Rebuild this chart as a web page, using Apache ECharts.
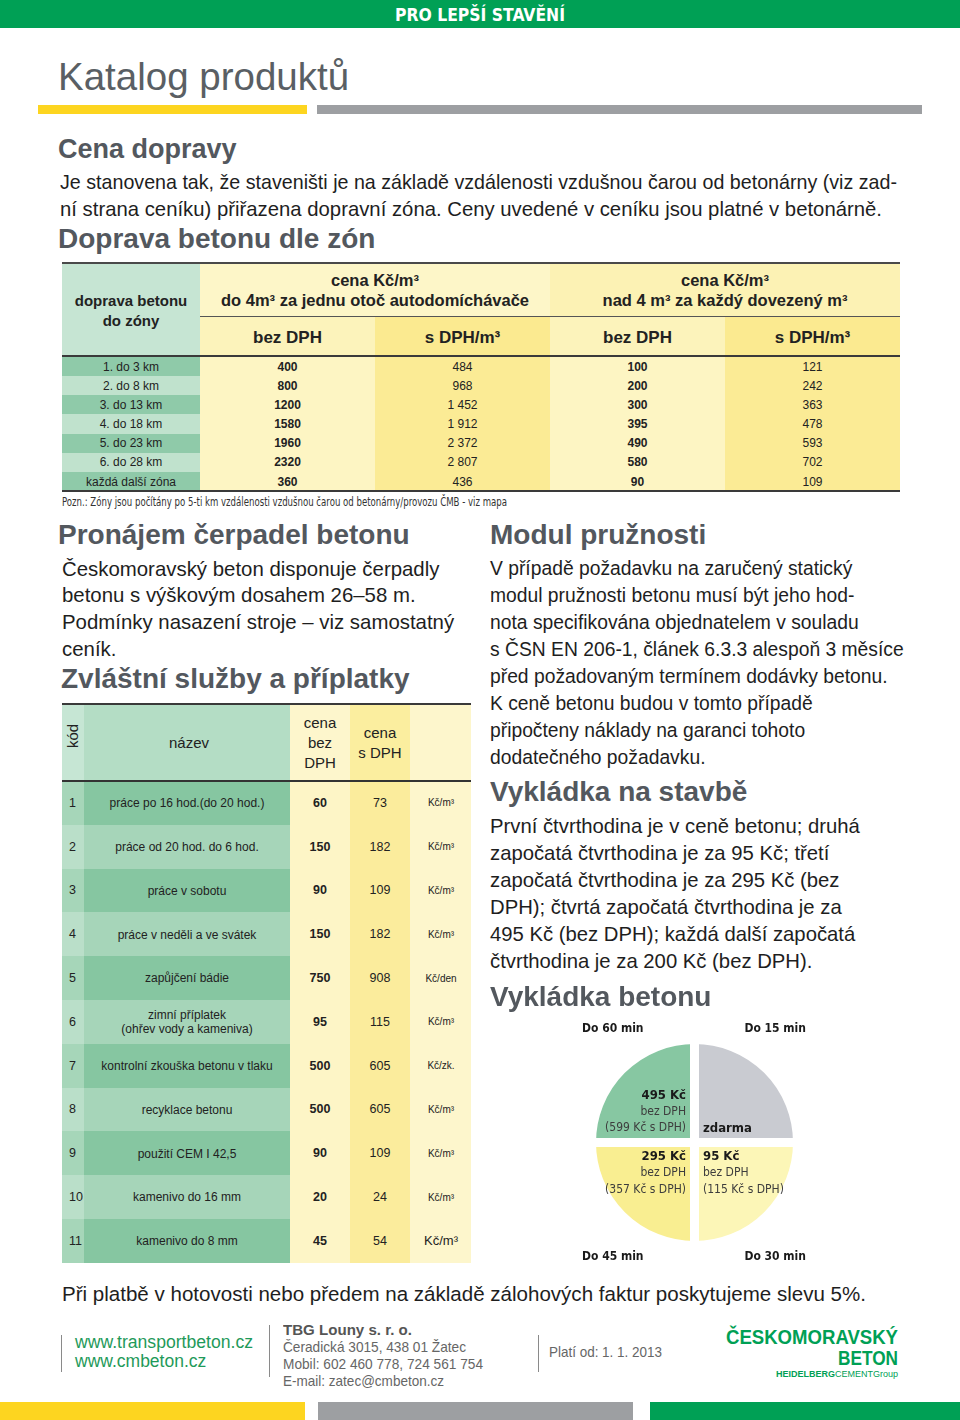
<!DOCTYPE html>
<html><head><meta charset="utf-8">
<script src="https://cdn.jsdelivr.net/npm/echarts@6/dist/echarts.min.js"></script>
<style>
html,body{margin:0;padding:0;background:#fff;}
#page{position:relative;width:960px;height:1420px;overflow:hidden;background:#fff;font-family:"Liberation Sans",Arial,sans-serif;color:#222;}
.t{position:absolute;white-space:nowrap;}
.r{position:absolute;}
#pie{position:absolute;left:480px;top:1005px;width:480px;height:275px;}
</style></head>
<body><div id="page"><div id="pie"></div></div>
<script>
// ---------- data ----------
const zones = ['1. do 3 km','2. do 8 km','3. do 13 km','4. do 18 km','5. do 23 km','6. do 28 km','každá další zóna'];
const firstNet = [400,800,1200,1580,1960,2320,360];
const firstGross = [484,968,1452,1912,2372,2807,436];
const extraNet = [100,200,300,395,490,580,90];
const extraGross = [121,242,363,478,593,702,109];

const serviceCodes = [1,2,3,4,5,6,7,8,9,10,11];
const serviceNames = ['práce po 16 hod.(do 20 hod.)','práce od 20 hod. do 6 hod.','práce v sobotu','práce v neděli a ve svátek','zapůjčení bádie','zimní příplatek|(ohřev vody a kameniva)','kontrolní zkouška betonu v tlaku','recyklace betonu','použití CEM I 42,5','kamenivo do 16 mm','kamenivo do 8 mm'];
const serviceNet = [60,150,90,150,750,95,500,500,90,20,45];
const serviceGross = [73,182,109,182,908,115,605,605,109,24,54];
const serviceUnit = ['Kč/m³','Kč/m³','Kč/m³','Kč/m³','Kč/den','Kč/m³','Kč/zk.','Kč/m³','Kč/m³','Kč/m³','Kč/m³'];

const slotNames = ['Do 15 min','Do 30 min','Do 45 min','Do 60 min'];
const slotShare = [1,1,1,1];
const slotNet = [0,95,295,495];
const slotGross = [0,115,357,599];

// ---------- helpers ----------
const page = document.getElementById('page');
function put(html,x,base,fs,css,align,fitW){
  const d=document.createElement('div');
  d.className='t';
  d.innerHTML=html;
  let s='left:'+x+'px;top:'+(base-0.8465*fs)+'px;font-size:'+fs+'px;line-height:'+fs+'px;';
  d.style.cssText=s+(css||'');
  page.appendChild(d);
  let tr='';
  if(align==='center') tr='translateX(-50%)';
  if(align==='right') tr='translateX(-100%)';
  if(fitW){
    const nat=d.getBoundingClientRect().width;
    tr+=' scaleX('+(fitW/nat)+')';
    d.style.transformOrigin=align==='right'?'100% 50%':(align==='center'?'50% 50%':'0 50%');
  }
  if(tr) d.style.transform=tr;
  return d;
}
function rect(x,y,w,h,c){
  const d=document.createElement('div');d.className='r';
  d.style.cssText='left:'+x+'px;top:'+y+'px;width:'+w+'px;height:'+h+'px;background:'+c+';';
  page.appendChild(d);return d;
}
function fmt(n){return n>=1000? String(n).replace(/(\d)(\d{3})$/,'$1 $2'):String(n);}
const COND='font-family:"DejaVu Sans Condensed","DejaVu Sans",sans-serif;font-stretch:condensed;';

// ---------- top ----------
rect(0,0,960,28,'#00a055');
put('PRO LEPŠÍ STAVĚNÍ',480,21,18,COND+'font-weight:bold;color:#fff;','center',170);
put('Katalog produktů',58,91,38.5,'color:#5a5f64;');
rect(38,105,269,9,'#fdd520');
rect(317,105,605,9,'#9d9fa2');

put('Cena dopravy',58,159,27,'font-weight:bold;color:#53585e;');
const p1=['Je stanovena tak, že staveništi je na základě vzdálenosti vzdušnou čarou od betonárny (viz zad-','ní strana ceníku) přiřazena dopravní zóna. Ceny uvedené v ceníku jsou platné v betonárně.'];
const p1w=[837,822];
p1.forEach((l,i)=>{put(l,60,189+i*27,21,'color:#1e1e1e;',null,p1w[i]);});
put('Doprava betonu dle zón',58,249,28,'font-weight:bold;color:#53585e;');

// ---------- table 1 ----------
(function(){
  rect(62,263,138,94,'#c6e5d3');
  rect(200,263,350,53,'#fdf6c8');
  rect(550,263,350,53,'#fcf2b4');
  rect(200,316,175,41,'#fcf3bb');
  rect(375,316,175,41,'#fbea90');
  rect(550,316,175,41,'#fcf3bb');
  rect(725,316,175,41,'#fbea90');
  const top=357, h=(491-357)/zones.length;
  zones.forEach((z,i)=>{
    const y=top+i*h;
    rect(62,y,138,h,i%2===0?'#8fcaa9':'#c0e2cd');
    rect(200,y,175,h,'#fdf5c3');
    rect(375,y,175,h,'#fbeb95');
    rect(550,y,175,h,'#fdf5c3');
    rect(725,y,175,h,'#fbeb95');
    const b=y+h/2+4.3;
    put(z,131,b,12,'color:#222;','center');
    put(String(firstNet[i]),287.5,b,12,'font-weight:bold;color:#222;','center');
    put(fmt(firstGross[i]),462.5,b,12,'color:#222;','center');
    put(String(extraNet[i]),637.5,b,12,'font-weight:bold;color:#222;','center');
    put(fmt(extraGross[i]),812.5,b,12,'color:#222;','center');
    rect(62,Math.round(y+h)-0.5,838,1,'#3a3a3a');
  });
  rect(62,262,838,2,'#4a4a4a');
  rect(200,315.5,700,1,'#555');
  rect(62,354.5,838,2,'#3a3a3a');
  rect(62,490,838,1.5,'#3a3a3a');
  put('doprava betonu',131,306,15,'font-weight:bold;color:#222;','center');
  put('do zóny',131,326,15,'font-weight:bold;color:#222;','center');
  put('cena Kč/m³',375,286,16.5,'font-weight:bold;color:#222;','center');
  put('do 4m³ za jednu otoč autodomíchávače',375,306,16.5,'font-weight:bold;color:#222;','center');
  put('cena Kč/m³',725,286,16.5,'font-weight:bold;color:#222;','center');
  put('nad 4 m³ za každý dovezený m³',725,306,16.5,'font-weight:bold;color:#222;','center');
  put('bez DPH',287.5,343,17,'font-weight:bold;color:#222;','center');
  put('s DPH/m³',462.5,343,17,'font-weight:bold;color:#222;','center');
  put('bez DPH',637.5,343,17,'font-weight:bold;color:#222;','center');
  put('s DPH/m³',812.5,343,17,'font-weight:bold;color:#222;','center');
})();
put('Pozn.: Zóny jsou počítány po 5-ti km vzdálenosti vzdušnou čarou od betonárny/provozu ČMB - viz mapa',62,507,11.5,COND+'color:#333;',null,445);

// ---------- left column ----------
put('Pronájem čerpadel betonu',58,545,28,'font-weight:bold;color:#53585e;');
['Českomoravský beton disponuje čerpadly','betonu s výškovým dosahem 26–58 m.','Podmínky nasazení stroje – viz samostatný','ceník.'].forEach((l,i)=>put(l,62,576+i*26.7,20.4,'color:#1e1e1e;'));
put('Zvláštní služby a příplatky',61,689,28,'font-weight:bold;color:#53585e;');

// ---------- table 2 ----------
(function(){
  rect(62,704,22,77,'#c6e6d4');
  rect(84,704,206,77,'#b4ddc5');
  rect(290,704,60,77,'#fdf6cc');
  rect(350,704,60,77,'#fbee9f');
  rect(410,704,61,77,'#fdf6cc');
  const top=781,h=43.8;
  serviceCodes.forEach((c,i)=>{
    const y=top+i*h, odd=i%2===0;
    rect(62,y,22,h,odd?'#a6d6b9':'#badfc9');
    rect(84,y,206,h,odd?'#86c6a1':'#a6d5b9');
    rect(290,y,60,h,'#fdf5c6');
    rect(350,y,60,h,'#fbec9c');
    rect(410,y,61,h,'#fdf6cc');
    const cy=y+h/2, b=cy+4.5;
    put(String(c),69,b,12.5,'color:#222;');
    const nm=serviceNames[i].split('|');
    if(nm.length===1) put(nm[0],187,b,12,'color:#222;','center');
    else {put(nm[0],187,b-7,12,'color:#222;','center');put(nm[1],187,b+7,12,'color:#222;','center');}
    put(String(serviceNet[i]),320,b,12.5,'font-weight:bold;color:#222;','center');
    put(String(serviceGross[i]),380,b,12.5,'color:#222;','center');
    const last=i===serviceCodes.length-1;
    put(serviceUnit[i],441,b-(last?0:0.5),last?13:10,'color:#222;','center');
    if(!last) rect(62,Math.round(y+h)-0.5,409,1,'#333');
  });
  rect(62,703,409,2,'#3a3a3a');
  rect(62,780,409,1.5,'#333');
  const k=put('kód',72,745,15,'color:#222;','center');
  k.style.transform='translate(-50%,-30%) rotate(-90deg)';
  k.style.top=(740-7.5)+'px';
  put('název',189,748,15,'color:#222;','center');
  ['cena','bez','DPH'].forEach((l,i)=>put(l,320,728+i*20,15,'color:#222;','center'));
  ['cena','s DPH'].forEach((l,i)=>put(l,380,738+i*20,15,'color:#222;','center'));
})();

// ---------- right column ----------
put('Modul pružnosti',490,545,28,'font-weight:bold;color:#53585e;');
['V případě požadavku na zaručený statický','modul pružnosti betonu musí být jeho hod-','nota specifikována objednatelem v souladu','s ČSN EN 206-1, článek 6.3.3 alespoň 3 měsíce','před požadovaným termínem dodávky betonu.','K ceně betonu budou v tomto případě','připočteny náklady na garanci tohoto','dodatečného požadavku.'].forEach((l,i)=>put(l,490,575+i*27,19.3,'color:#1e1e1e;'));
put('Vykládka na stavbě',490,802,28,'font-weight:bold;color:#53585e;');
['První čtvrthodina je v ceně betonu; druhá','započatá čtvrthodina je za 95 Kč; třetí','započatá čtvrthodina je za 295 Kč (bez','DPH); čtvrtá započatá čtvrthodina je za','495 Kč (bez DPH); každá další započatá','čtvrthodina je za 200 Kč (bez DPH).'].forEach((l,i)=>put(l,490,833+i*27,20.3,'color:#1e1e1e;'));
put('Vykládka betonu',490,1007,28,'font-weight:bold;color:#53585e;');

// ---------- bottom ----------
put('Při platbě v hotovosti nebo předem na základě zálohových faktur poskytujeme slevu 5%.',62,1301,20.5,'color:#1e1e1e;',null,804);
rect(61,1335,1,37,'#8a8a8a');
rect(269,1325,1,52,'#8a8a8a');
rect(538,1335,1,37,'#8a8a8a');
put('www.transportbeton.cz',75,1349,17.5,'color:#1f9a5a;',null,178);
put('www.cmbeton.cz',75,1368,17.5,'color:#1f9a5a;');
put('TBG Louny s. r. o.',283,1335,15.5,'font-weight:bold;color:#555;',null,129);
put('Čeradická 3015, 438 01 Žatec',283,1352,14.5,'color:#666;',null,183);
put('Mobil: 602 460 778, 724 561 754',283,1369,14.5,'color:#666;',null,200);
put('E-mail: zatec@cmbeton.cz',283,1386,14.5,'color:#666;',null,161);
put('Platí od: 1. 1. 2013',549,1357,14.5,'color:#666;',null,113);
put('ČESKOMORAVSKÝ',898,1344,21,'font-weight:bold;color:#00a055;','right',172);
put('BETON',898,1365,21,'font-weight:bold;color:#00a055;','right',60);
put('<b>HEIDELBERG</b>CEMENTGroup',898,1377,9.5,'color:#00a055;','right',122);
rect(0,1402,305,18,'#fdd520');
rect(318,1402,315,18,'#9d9fa2');
rect(650,1402,310,18,'#00a055');

// ---------- pie ----------
const FONT='"DejaVu Sans Condensed","DejaVu Sans",sans-serif';
const CX=214.5, CY=137.5, R=103, GAP=8.5;
const sliceColors=['#c9cbd1','#fcf6b7','#f9ee91','#87c7a2'];
const chart=echarts.init(document.getElementById('pie'));
chart.setOption({
  animation:false,
  series:[{
    type:'pie',center:[CX,CY],radius:R,startAngle:90,clockwise:true,silent:true,
    itemStyle:{borderColor:'#fff',borderWidth:9},
    data:slotNames.map((n,i)=>({name:n,value:slotShare[i],itemStyle:{color:sliceColors[i]}})),
    label:{show:true,position:'inside',fontFamily:FONT,
      formatter:p=>{const i=p.dataIndex;return slotNet[i]===0?'{b|zdarma}':'{b|'+slotNet[i]+' Kč}\n{n|bez DPH}\n{n|('+slotGross[i]+' Kč s DPH)}';},
      rich:{b:{fontFamily:FONT,fontWeight:'bold',fontSize:13,lineHeight:16.5,color:'#1a1a1a'},
            n:{fontFamily:FONT,fontSize:12,lineHeight:16.5,color:'#3d3d3d'}}},
    labelLine:{show:false},
    labelLayout:p=>{const i=p.dataIndex;const right=i<2;const top=(i===0||i===3);
      return {x:right?CX+GAP:CX-GAP,y:top?CY-6:CY+6,align:right?'left':'right',verticalAlign:top?'bottom':'top'};}
  }],
  graphic:[
    {type:'text',x:102,y:24,style:{text:slotNames[3],textAlign:'left',textVerticalAlign:'middle',font:'bold 12px '+FONT,fill:'#1a1a1a'}},
    {type:'text',x:326,y:24,style:{text:slotNames[0],textAlign:'right',textVerticalAlign:'middle',font:'bold 12px '+FONT,fill:'#1a1a1a'}},
    {type:'text',x:102,y:252,style:{text:slotNames[2],textAlign:'left',textVerticalAlign:'middle',font:'bold 12px '+FONT,fill:'#1a1a1a'}},
    {type:'text',x:326,y:252,style:{text:slotNames[1],textAlign:'right',textVerticalAlign:'middle',font:'bold 12px '+FONT,fill:'#1a1a1a'}}
  ]
});
</script></body></html>
